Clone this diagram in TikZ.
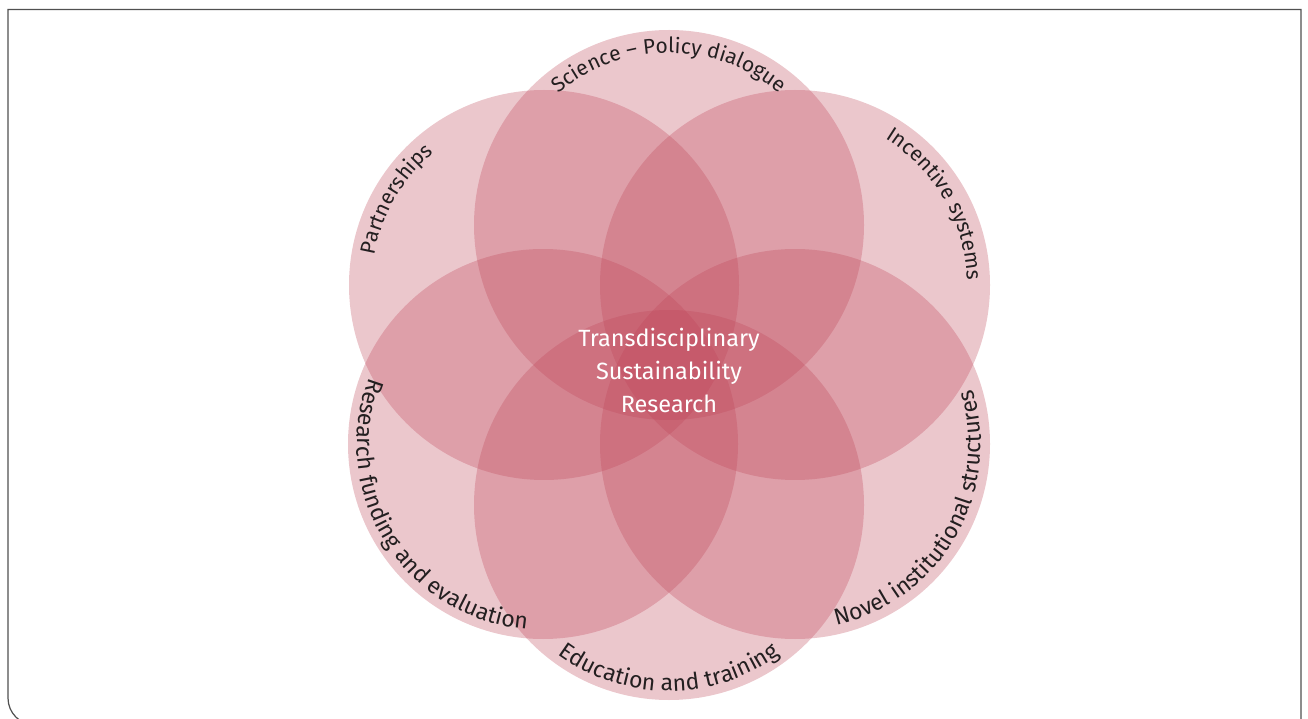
\documentclass[tikz,border=0pt]{standalone}
\usepackage{fontspec}
\setmainfont{Fira Sans}
\usetikzlibrary{decorations.text}
\definecolor{petalc}{RGB}{190,68,87}
\definecolor{labtext}{RGB}{35,31,32}
\definecolor{framec}{RGB}{80,80,80}
\newcommand\labfontcw{\fontsize{21}{25}\selectfont}
\newcommand\labfontccw{\fontsize{23}{27}\selectfont}
\tikzset{
  petal/.style={circle, minimum size=390pt, inner sep=0pt, outer sep=0pt, fill=petalc, fill opacity=0.3},
  framestyle/.style={draw=framec, line width=1.2pt},
  centertext/.style={text=white, align=center, font=\fontsize{23.5}{33}\selectfont},
  arclabelcw/.style={decorate, decoration={text along path, text align=center, text={|\labfontcw\color{labtext}|#1}}},
  arclabelccw/.style={decorate, decoration={text along path, text align=center, text={|\labfontccw\color{labtext}|#1}}}
}
\begin{document}
\begin{tikzpicture}[x=1pt,y=1pt]
\useasboundingbox (0,0) rectangle (1308,718);
\begin{scope}
\clip (0,0) rectangle (1308,718);
\draw[framestyle] (1301,-12) -- (1301,708.5) -- (8,708.5) -- (8,20) arc[start angle=180,end angle=270,radius=27pt] -- (1301,-7);
\end{scope}
\node[petal] (top) at (669,493) {};
\node[petal] (bot) at (669,213) {};
\node[petal] (ul) at (544,433) {};
\node[petal] (ur) at (795,433) {};
\node[petal] (ll) at (543,274) {};
\node[petal] (lr) at (795,274) {};
\node[centertext] (ctr) at (669,348) {Transdisciplinary\\Sustainability\\Research};
% clockwise labels (tops outward)
\path[arclabelcw={Science – Policy dialogue}] ([shift={(150:172pt)}]top.center) arc[start angle=150, end angle=30, radius=172pt];
\path[arclabelcw={Partnerships}] ([shift={(210:172pt)}]ul.center) arc[start angle=210, end angle=90, radius=172pt];
\path[arclabelcw={Incentive systems}] ([shift={(90:172pt)}]ur.center) arc[start angle=90, end angle=-30, radius=172pt];
% counter-clockwise labels (tops inward)
\path[arclabelccw={Novel institutional structures}] ([shift={(-110:186pt)}]lr.center) arc[start angle=-110, end angle=50, radius=186pt];
\path[arclabelccw={Research funding and evaluation}] ([shift={(132:186pt)}]ll.center) arc[start angle=132, end angle=292, radius=186pt];
\path[arclabelccw={Education and training}] ([shift={(210:186pt)}]bot.center) arc[start angle=210, end angle=330, radius=186pt];
\end{tikzpicture}
\end{document}
